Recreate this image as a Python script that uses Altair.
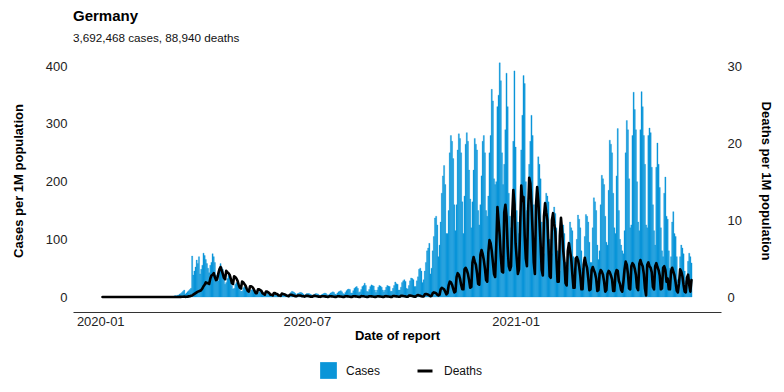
import altair as alt
import pandas as pd

BLUE = "#0a95d8"
FONT = "Liberation Sans"

# ---- daily values per 1M population, 2020-01-03 .. 2021-06-05 (weeks run Mon..Sun) ----
cases_jan_feb_2020 = [0] * 59          # 2020-01-03 .. 2020-03-01
deaths_jan_feb_2020 = [0] * 59

cases_wave1_weeks = [                  # weeks from 2020-03-02
    [0.3, 0.4, 0.6, 0.9, 1.3, 2.6, 2.0],
    [3, 3.5, 5, 6, 8, 10, 12],
    [5, 7, 9, 11, 13, 15, 71],
    [38, 45, 52, 64, 58, 70, 40],
    [48, 55, 76, 72, 65, 58, 50],
    [42, 55, 60, 75, 70, 60, 38],
    [30, 28, 45, 58, 52, 48, 35],
    [22, 25, 32, 38, 35, 30, 20],
    [14, 15, 22, 25, 23, 20, 13],
    [10, 10, 16, 18, 16, 14, 9],
    [7, 8, 12, 13, 12, 10, 7],
    [5, 6, 9, 10, 9, 8, 5],
]
cases_summer_weeks = [                 # weeks from 2020-05-25
    [3, 4, 6, 7, 6, 5, 4],
    [3, 3, 4, 6, 6, 5, 4],
    [2.5, 3, 4, 5, 5, 4.5, 3],
    [3, 5, 8, 10, 9, 8, 6],
    [4, 6, 7, 8, 8, 7, 5],
    [3, 4, 6, 6, 6, 5, 4],
    [3, 3.5, 5, 6, 5.5, 5, 3],
    [2.5, 4, 5, 6, 7, 6, 4],
    [3, 5, 7, 8, 9, 8, 5],
    [4, 7, 9, 10, 11, 9, 6],
    [5, 8, 11, 13, 14, 13, 7],
    [7, 11, 15, 17, 18, 15, 8],
    [9, 13, 18, 20, 24, 20, 10],
    [9, 13, 18, 21, 20, 19, 12],
    [8, 12, 17, 20, 19, 17, 12],
    [9, 12, 17, 20, 19, 18, 10],
    [10, 15, 20, 26, 23, 22, 12],
    [12, 17, 25, 28, 30, 27, 15],
    [14, 20, 28, 33, 32, 30, 18],
]
cases_wave2_weeks = [                  # weeks from 2020-10-05
    [18, 28, 35, 48, 50, 45, 25],
    [30, 45, 60, 80, 85, 93, 40],
    [50, 80, 105, 137, 140, 125, 70],
    [90, 130, 180, 210, 228, 195, 110],
    [110, 150, 250, 280, 270, 240, 160],
    [115, 160, 255, 283, 275, 250, 165],
    [110, 175, 265, 285, 270, 220, 170],
    [120, 165, 220, 275, 265, 255, 150],
    [125, 160, 210, 270, 280, 250, 150],
    [140, 175, 250, 280, 360, 340, 205],
    [195, 200, 330, 350, 406, 375, 250],
    [195, 230, 290, 388, 330, 180, 140],
    [120, 150, 270, 392, 260, 150, 130],
    [110, 140, 255, 315, 384, 370, 200],
    [150, 145, 230, 270, 315, 280, 160],
    [90, 140, 180, 243, 230, 205, 130],
    [70, 75, 165, 180, 175, 165, 100],
    [60, 75, 120, 156, 145, 120, 80],
    [50, 45, 100, 125, 125, 110, 60],
    [45, 50, 95, 130, 120, 115, 70],
    [50, 60, 100, 142, 135, 120, 80],
]
cases_wave3_weeks = [                  # weeks from 2021-03-01
    [50, 65, 105, 143, 140, 130, 95],
    [60, 60, 120, 172, 165, 150, 90],
    [65, 80, 160, 211, 205, 195, 140],
    [95, 90, 185, 272, 265, 250, 180],
    [120, 110, 210, 292, 150, 100, 90],
    [80, 75, 115, 250, 306, 290, 205],
    [120, 125, 280, 355, 325, 290, 200],
    [130, 115, 290, 356, 330, 280, 230],
    [125, 120, 280, 293, 285, 225, 160],
    [115, 90, 225, 267, 230, 190, 120],
    [80, 70, 180, 208, 140, 135, 80],
    [50, 70, 130, 148, 110, 105, 70],
    [30, 25, 70, 90, 85, 75, 45],
    [28, 35, 62, 76, 70, 59],
]

deaths_wave1_weeks = [
    [0, 0, 0, 0, 0, 0, 0],
    [0, 0.01, 0.02, 0.02, 0.03, 0.03, 0.05],
    [0.02, 0.03, 0.05, 0.08, 0.1, 0.15, 0.2],
    [0.3, 0.4, 0.5, 0.6, 0.7, 0.75, 0.8],
    [0.9, 1.1, 1.4, 1.6, 1.9, 1.8, 1.8],
    [1.7, 2.4, 2.8, 2.9, 3.1, 2.6, 2.2],
    [2.3, 3.0, 3.6, 3.9, 3.5, 3.0, 2.5],
    [2.3, 3.4, 3.2, 3.1, 2.9, 2.4, 1.8],
    [1.7, 2.7, 2.6, 2.4, 2.1, 1.6, 1.2],
    [1.1, 2.0, 1.9, 1.7, 1.5, 1.1, 0.8],
    [0.7, 1.4, 1.4, 1.3, 1.1, 0.8, 0.5],
    [0.5, 1.0, 1.0, 0.9, 0.8, 0.5, 0.4],
]
deaths_summer_weeks = [
    [0.3, 0.7, 0.7, 0.6, 0.5, 0.3, 0.3],
    [0.2, 0.5, 0.5, 0.4, 0.4, 0.2, 0.2],
    [0.15, 0.45, 0.4, 0.35, 0.3, 0.2, 0.15],
    [0.1, 0.3, 0.3, 0.25, 0.2, 0.15, 0.1],
    [0.1, 0.2, 0.2, 0.2, 0.15, 0.1, 0.1],
    [0.05, 0.15, 0.15, 0.15, 0.1, 0.05, 0.05],
    [0.05, 0.15, 0.15, 0.12, 0.1, 0.05, 0.05],
    [0.02, 0.1, 0.1, 0.1, 0.08, 0.05, 0.02],
    [0.02, 0.1, 0.1, 0.08, 0.06, 0.04, 0.02],
    [0.02, 0.09, 0.1, 0.08, 0.07, 0.04, 0.02],
    [0.02, 0.1, 0.09, 0.08, 0.06, 0.04, 0.02],
    [0.02, 0.1, 0.1, 0.08, 0.06, 0.03, 0.02],
    [0.02, 0.11, 0.1, 0.09, 0.06, 0.04, 0.02],
    [0.02, 0.1, 0.1, 0.08, 0.06, 0.04, 0.02],
    [0.02, 0.09, 0.1, 0.08, 0.07, 0.04, 0.02],
    [0.02, 0.1, 0.11, 0.08, 0.06, 0.04, 0.02],
    [0.02, 0.12, 0.14, 0.1, 0.08, 0.06, 0.04],
    [0.03, 0.15, 0.16, 0.13, 0.1, 0.08, 0.04],
    [0.04, 0.18, 0.2, 0.16, 0.12, 0.08, 0.05],
]
deaths_wave2_weeks = [
    [0.05, 0.2, 0.25, 0.2, 0.15, 0.1, 0.07],
    [0.08, 0.35, 0.4, 0.35, 0.3, 0.2, 0.1],
    [0.15, 0.5, 0.6, 0.55, 0.5, 0.3, 0.2],
    [0.3, 1.0, 1.2, 1.1, 1.0, 0.7, 0.35],
    [0.5, 1.5, 2.0, 1.9, 1.6, 1.1, 0.6],
    [0.7, 2.6, 3.1, 2.9, 2.4, 1.6, 1.0],
    [1.0, 3.6, 3.8, 3.5, 3.0, 2.2, 1.2],
    [1.3, 4.5, 5.2, 4.6, 4.2, 3.1, 1.7],
    [1.6, 5.5, 6.1, 5.6, 4.8, 3.7, 2.2],
    [2.0, 5.8, 7.4, 7.0, 6.0, 4.5, 3.0],
    [2.6, 6.8, 11.7, 9.9, 8.0, 5.2, 3.3],
    [3.2, 11.0, 12.0, 10.5, 6.5, 4.0, 3.5],
    [4.0, 10.5, 13.9, 12.0, 7.0, 5.0, 3.0],
    [3.6, 9.0, 14.5, 12.5, 13.0, 8.0, 5.0],
    [4.0, 11.0, 15.5, 14.8, 12.0, 8.5, 4.5],
    [3.0, 12.0, 14.3, 12.5, 10.0, 7.0, 3.5],
    [2.8, 10.5, 12.2, 11.0, 10.0, 6.5, 2.7],
    [2.5, 10.0, 10.9, 9.5, 8.5, 5.0, 2.0],
    [2.0, 8.0, 10.3, 8.5, 6.0, 4.5, 1.8],
    [1.5, 6.0, 7.0, 6.0, 5.0, 3.0, 1.2],
    [1.2, 5.0, 5.2, 4.8, 4.0, 2.8, 1.0],
]
deaths_wave3_weeks = [
    [1.0, 4.2, 5.1, 4.3, 3.8, 2.5, 0.9],
    [1.0, 3.5, 3.9, 3.5, 3.1, 2.4, 0.8],
    [0.9, 3.0, 3.5, 3.3, 2.9, 2.0, 0.7],
    [0.9, 3.0, 3.4, 3.2, 2.8, 2.3, 0.8],
    [0.8, 3.0, 3.5, 3.4, 2.1, 1.7, 0.9],
    [0.7, 2.0, 3.6, 4.6, 4.2, 3.0, 1.1],
    [1.0, 4.0, 4.4, 4.2, 3.7, 2.9, 1.2],
    [0.9, 4.3, 4.8, 4.3, 4.0, 3.0, 1.1],
    [0.2, 4.2, 4.5, 4.0, 3.8, 3.2, 1.3],
    [1.0, 4.0, 4.4, 3.9, 3.5, 2.8, 1.0],
    [1.1, 3.8, 4.0, 3.5, 2.0, 2.4, 1.0],
    [1.0, 3.4, 3.8, 3.3, 2.8, 1.9, 0.8],
    [0.6, 1.8, 3.6, 3.3, 2.7, 1.6, 0.7],
    [0.6, 2.5, 2.9, 1.6, 0.7, 2.2],
]

TITLE = "Germany"
SUBTITLE = "3,692,468 cases, 88,940 deaths"
X_TICKS = ["2020-01-01", "2020-07-01", "2021-01-01"]
CASES_TICKS = [0, 100, 200, 300, 400]
DEATHS_TICKS = [0, 10, 20, 30]


def flat(weeks):
    return [v for w in weeks for v in w]


cases = (cases_jan_feb_2020 + flat(cases_wave1_weeks) + flat(cases_summer_weeks)
         + flat(cases_wave2_weeks) + flat(cases_wave3_weeks))
deaths = (deaths_jan_feb_2020 + flat(deaths_wave1_weeks) + flat(deaths_summer_weeks)
          + flat(deaths_wave2_weeks) + flat(deaths_wave3_weeks))
assert len(cases) == len(deaths)

dates = pd.date_range("2020-01-03", periods=len(cases), freq="D")
df = pd.DataFrame({
    "date": dates,
    "start": dates - pd.Timedelta(hours=12),
    "end": dates + pd.Timedelta(hours=12),
    "cases": cases,
    "deaths": deaths,
    "c_lab": "Cases",
    "d_lab": "Deaths",
})

xscale = alt.Scale(domain=[alt.DateTime(year=2019, month=12, date=8),
                           alt.DateTime(year=2021, month=7, date=1)], nice=False)
tick_dt = [alt.DateTime(year=int(s[:4]), month=int(s[5:7]), date=int(s[8:])) for s in X_TICKS]
xaxis = alt.Axis(values=tick_dt, format="%Y-%m", domain=True, domainColor="#333333",
                 domainWidth=1, labelPadding=3, titlePadding=1, labelFlush=False)

bars = alt.Chart(df).mark_bar(color=BLUE, stroke=BLUE, strokeWidth=0.3).encode(
    x=alt.X("start:T", scale=xscale, axis=xaxis, title="Date of report"),
    x2="end:T",
    y=alt.Y("cases:Q", scale=alt.Scale(domain=[-26, 430], nice=False, zero=False),
            axis=alt.Axis(values=CASES_TICKS, orient="left", labelPadding=6, titlePadding=20),
            title="Cases per 1M population"),
    y2=alt.datum(0),
    color=alt.Color("c_lab:N", scale=alt.Scale(domain=["Cases"], range=[BLUE]),
                    legend=alt.Legend(title=None, orient="none", legendX=247, legendY=313,
                                      direction="horizontal", symbolType="square",
                                      symbolSize=280, symbolStrokeWidth=0, labelOffset=9,
                                      labelFontSize=12, padding=0, labelFont=FONT,
                                      labelColor="#111111")),
)

line = alt.Chart(df).mark_line(strokeWidth=2.6, strokeJoin="round", strokeCap="round").encode(
    x=alt.X("date:T", scale=xscale, axis=xaxis, title="Date of report"),
    y=alt.Y("deaths:Q", scale=alt.Scale(domain=[-1.95, 32.25], nice=False, zero=False),
            axis=alt.Axis(values=DEATHS_TICKS, orient="right", labelPadding=6, titlePadding=17),
            title="Deaths per 1M population"),
    stroke=alt.Stroke("d_lab:N", scale=alt.Scale(domain=["Deaths"], range=["black"]),
                      legend=alt.Legend(title=None, orient="none", legendX=343, legendY=313,
                                        direction="horizontal", symbolType="stroke",
                                        symbolSize=225, symbolStrokeWidth=3, labelOffset=10,
                                        labelFontSize=12, padding=0, labelFont=FONT,
                                        labelColor="#111111")),
)

chart = alt.layer(bars, line).resolve_scale(
    y="independent", color="independent", stroke="independent"
).properties(
    width=648, height=263,
    padding={"left": 4, "top": 1, "right": 3, "bottom": 0},
    title=alt.TitleParams(text=TITLE, subtitle=SUBTITLE, anchor="start", frame="group",
                          fontSize=15, fontWeight="bold", font=FONT, color="#000000",
                          subtitleFont=FONT, subtitleFontSize=11.7, subtitleColor="#111111",
                          subtitlePadding=9, offset=4),
).configure_view(strokeWidth=0).configure_axis(
    labelFont=FONT, titleFont=FONT, labelFontSize=13, titleFontSize=13,
    titleFontWeight="bold", labelColor="#222222", titleColor="#000000",
    grid=False, ticks=False, domain=False,
).configure_axisX(domain=True)

chart.save("out.html", embed_options={"renderer": "svg", "actions": False})
